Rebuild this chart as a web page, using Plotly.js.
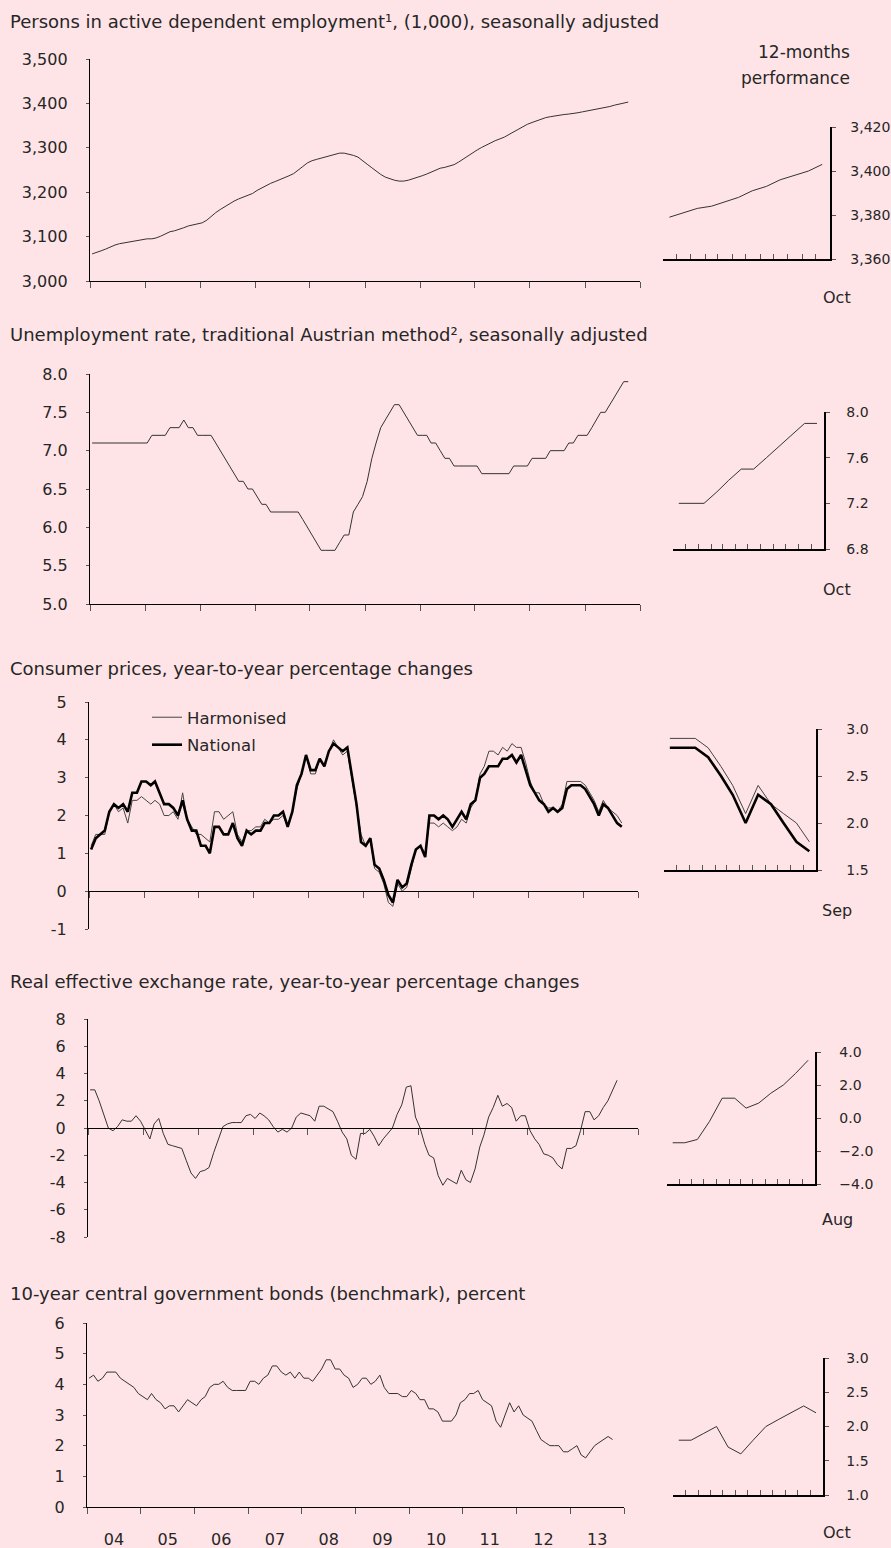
<!DOCTYPE html>
<html>
<head>
<meta charset="utf-8">
<script src="https://cdn.plot.ly/plotly-3.0.1.min.js"></script>
<style>
  html, body { margin: 0; padding: 0; background: #ffe4e7; }
  #chart { width: 891px; height: 1548px; }
</style>
</head>
<body>
<div id="chart"></div>
<script>
// ---------------- DATA (monthly, starting Jan 2004) ----------------
const employment = [
  3061, 3064, 3068, 3072, 3077, 3081, 3084, 3086, 3088, 3090, 3092, 3094,
  3095, 3095, 3097, 3101, 3106, 3111, 3113, 3116, 3120, 3124, 3126, 3128,
  3131, 3137, 3146, 3154, 3161, 3168, 3174, 3180, 3185, 3189, 3193, 3197,
  3204, 3210, 3215, 3220, 3224, 3228, 3233, 3237, 3242, 3249, 3258, 3266,
  3271, 3274, 3277, 3279, 3283, 3286, 3288, 3288, 3286, 3283, 3279, 3272,
  3263, 3255, 3247, 3240, 3234, 3230, 3227, 3225, 3225, 3227, 3230, 3233,
  3237, 3241, 3245, 3250, 3254, 3256, 3259, 3262, 3268, 3275, 3281, 3288,
  3295, 3301, 3306, 3311, 3316, 3320, 3324, 3330, 3336, 3342, 3347, 3353,
  3357, 3361, 3365, 3368, 3370, 3372, 3374, 3375, 3376, 3377, 3379, 3381,
  3383, 3384, 3386, 3388, 3391, 3393, 3396, 3398, 3400, 3403
];

const unemploymentRate = [
  7.1, 7.1, 7.1, 7.1, 7.1, 7.1, 7.1, 7.1, 7.1, 7.1, 7.1, 7.1,
  7.1, 7.2, 7.2, 7.2, 7.2, 7.3, 7.3, 7.3, 7.4, 7.3, 7.3, 7.2,
  7.2, 7.2, 7.2, 7.1, 7.0, 6.9, 6.8, 6.7, 6.6, 6.6, 6.5, 6.5,
  6.4, 6.3, 6.3, 6.2, 6.2, 6.2, 6.2, 6.2, 6.2, 6.2, 6.1, 6.0,
  5.9, 5.8, 5.7, 5.7, 5.7, 5.7, 5.8, 5.9, 5.9, 6.2, 6.3, 6.4,
  6.6, 6.9, 7.1, 7.3, 7.4, 7.5, 7.6, 7.6, 7.5, 7.4, 7.3, 7.2,
  7.2, 7.2, 7.1, 7.1, 7.0, 6.9, 6.9, 6.8, 6.8, 6.8, 6.8, 6.8,
  6.8, 6.7, 6.7, 6.7, 6.7, 6.7, 6.7, 6.7, 6.8, 6.8, 6.8, 6.8,
  6.9, 6.9, 6.9, 6.9, 7.0, 7.0, 7.0, 7.0, 7.1, 7.1, 7.2, 7.2,
  7.2, 7.3, 7.4, 7.5, 7.5, 7.6, 7.7, 7.8, 7.9, 7.9
];

const cpiHarmonised = [
  1.2, 1.5, 1.5, 1.5, 2.1, 2.3, 2.1, 2.2, 1.8, 2.4, 2.4, 2.5,
  2.4, 2.3, 2.4, 2.3, 2.0, 2.0, 2.1, 1.9, 2.6, 1.9, 1.7, 1.5,
  1.5, 1.4, 1.3, 2.1, 2.1, 1.9, 2.0, 2.1, 1.5, 1.3, 1.6, 1.6,
  1.7, 1.7, 1.9, 1.8, 1.9, 1.9, 2.0, 1.7, 2.1, 2.7, 3.1, 3.6,
  3.1, 3.1, 3.5, 3.3, 3.7, 4.0, 3.8, 3.6, 3.7, 3.0, 2.3, 1.5,
  1.2, 1.4, 0.6, 0.5, 0.2, -0.3, -0.4, 0.2, 0.0, 0.1, 0.6, 1.1,
  1.2, 1.0, 1.8, 1.8, 1.7, 1.8, 1.7, 1.6, 1.7, 1.9, 1.8, 2.2,
  2.4, 3.1, 3.3, 3.7, 3.7, 3.6, 3.8, 3.7, 3.9, 3.8, 3.8, 3.4,
  2.9, 2.6, 2.6, 2.3, 2.2, 2.2, 2.1, 2.3, 2.9, 2.9, 2.9, 2.9,
  2.8, 2.6, 2.4, 2.1, 2.4, 2.2, 2.1, 2.0, 1.8
];

const cpiNational = [
  1.1, 1.4, 1.5, 1.6, 2.1, 2.3, 2.2, 2.3, 2.1, 2.6, 2.6, 2.9,
  2.9, 2.8, 2.9, 2.6, 2.3, 2.3, 2.2, 2.0, 2.4, 1.9, 1.6, 1.6,
  1.2, 1.2, 1.0, 1.7, 1.7, 1.5, 1.5, 1.8, 1.4, 1.2, 1.6, 1.5,
  1.6, 1.6, 1.8, 1.8, 2.0, 2.0, 2.1, 1.7, 2.1, 2.8, 3.1, 3.6,
  3.2, 3.2, 3.5, 3.3, 3.7, 3.9, 3.8, 3.7, 3.8, 3.0, 2.3, 1.3,
  1.2, 1.4, 0.7, 0.6, 0.3, -0.1, -0.3, 0.3, 0.1, 0.2, 0.7, 1.1,
  1.2, 0.9, 2.0, 2.0, 1.9, 2.0, 1.9, 1.7, 1.9, 2.1, 1.9, 2.3,
  2.4, 3.0, 3.1, 3.3, 3.3, 3.3, 3.5, 3.5, 3.6, 3.4, 3.6, 3.2,
  2.8, 2.6, 2.4, 2.3, 2.1, 2.2, 2.1, 2.2, 2.7, 2.8, 2.8, 2.8,
  2.7, 2.5, 2.3, 2.0, 2.3, 2.2, 2.0, 1.8, 1.7
];

const realEffectiveExchangeRate = [
  2.8, 2.8, 2.0, 0.9, 0.0, -0.2, 0.1, 0.6, 0.5, 0.5, 0.9, 0.5,
  -0.1, -0.8, 0.3, 0.7, -0.4, -1.2, -1.3, -1.4, -1.5, -2.4, -3.3, -3.7,
  -3.2, -3.1, -2.9, -1.8, -0.8, 0.1, 0.3, 0.4, 0.4, 0.4, 0.9, 1.0,
  0.7, 1.1, 0.9, 0.6, 0.1, -0.3, -0.1, -0.3, 0.0, 0.8, 1.1, 1.0,
  0.9, 0.5, 1.6, 1.6, 1.4, 1.2, 0.5, -0.3, -0.8, -2.0, -2.3, -0.4,
  -0.4, -0.1, -0.6, -1.3, -0.8, -0.4, 0.0, 1.0, 1.7, 3.0, 3.1, 0.8,
  0.0, -1.2, -2.0, -2.2, -3.5, -4.2, -3.7, -3.9, -4.1, -3.1, -3.8, -4.0,
  -3.0, -1.4, -0.5, 0.8, 1.5, 2.4, 1.6, 1.8, 1.5, 0.5, 0.9, 0.9,
  -0.2, -0.8, -1.2, -1.9, -2.0, -2.2, -2.7, -3.0, -1.5, -1.5, -1.3, -0.2,
  1.2, 1.2, 0.6, 0.9, 1.5, 2.0, 2.7, 3.5
];

const bondYield = [
  4.2, 4.3, 4.1, 4.2, 4.4, 4.4, 4.4, 4.2, 4.1, 4.0, 3.9, 3.7,
  3.6, 3.5, 3.7, 3.5, 3.4, 3.2, 3.3, 3.3, 3.1, 3.3, 3.5, 3.4,
  3.3, 3.5, 3.6, 3.9, 4.0, 4.0, 4.1, 3.9, 3.8, 3.8, 3.8, 3.8,
  4.1, 4.1, 4.0, 4.2, 4.3, 4.6, 4.6, 4.4, 4.3, 4.4, 4.2, 4.4,
  4.2, 4.2, 4.1, 4.3, 4.5, 4.8, 4.8, 4.5, 4.5, 4.3, 4.2, 3.9,
  4.0, 4.2, 4.2, 4.0, 4.1, 4.3, 3.9, 3.7, 3.7, 3.7, 3.6, 3.6,
  3.8, 3.7, 3.5, 3.5, 3.2, 3.2, 3.1, 2.8, 2.8, 2.8, 3.0, 3.4,
  3.5, 3.7, 3.7, 3.8, 3.5, 3.4, 3.3, 2.8, 2.6, 3.0, 3.4, 3.1,
  3.3, 3.0, 2.9, 2.8, 2.5, 2.2, 2.1, 2.0, 2.0, 2.0, 1.8, 1.8,
  1.9, 2.0, 1.7, 1.6, 1.8, 2.0, 2.1, 2.2, 2.3, 2.2
];

const panelTitles = [
  "Persons in active dependent employment¹, (1,000), seasonally adjusted",
  "Unemployment rate, traditional Austrian method², seasonally adjusted",
  "Consumer prices, year-to-year percentage changes",
  "Real effective exchange rate, year-to-year percentage changes",
  "10-year central government bonds (benchmark), percent"
];
const mainYTicks = [
  [3000, 3100, 3200, 3300, 3400, 3500],
  [5.0, 5.5, 6.0, 6.5, 7.0, 7.5, 8.0],
  [-1, 0, 1, 2, 3, 4, 5],
  [-8, -6, -4, -2, 0, 2, 4, 6, 8],
  [0, 1, 2, 3, 4, 5, 6]
];
const smallYTicks = [
  [3360, 3380, 3400, 3420],
  [6.8, 7.2, 7.6, 8.0],
  [1.5, 2.0, 2.5, 3.0],
  [-4, -2, 0, 2, 4],
  [1.0, 1.5, 2.0, 2.5, 3.0]
];
const smallEndMonth = ["Oct", "Oct", "Sep", "Aug", "Oct"];
const performanceLabel = ["12-months", "performance"];
const seriesNames = ["Harmonised", "National"];

// ---------------- LAYOUT / STYLE ----------------
const W = 891, H = 1548;
const BG = "#ffe4e7";
const TXT = "#262626";
const FONT = "DejaVu Sans, sans-serif";
const px = x => x / W;
const py = y => 1 - y / H;

const fmtThousands = v => v.toLocaleString("en-US");
const fmt1 = v => v.toFixed(1);
const fmtInt = v => String(v);
const fmt1Minus = v => v.toFixed(1).replace("-", "\u2212");

const panels = [
  { series: [{ name: "Employment", values: employment, color: "#333", width: 1 }],
    mainFmt: fmtThousands, smallFmt: fmtThousands,
    box: { x0: 90, x1: 640, y0: 59, y1: 281 }, small: { x0: 663, x1: 830, y0: 127, y1: 259 },
    titleY: 22, monthY: 298, smallStandoff: 12 },
  { series: [{ name: "Unemployment", values: unemploymentRate, color: "#333", width: 1 }],
    mainFmt: fmt1, smallFmt: fmt1,
    box: { x0: 90, x1: 640, y0: 374, y1: 604 }, small: { x0: 673, x1: 824, y0: 412, y1: 549 },
    titleY: 335, monthY: 590, smallStandoff: 14 },
  { series: [{ name: seriesNames[0], values: cpiHarmonised, color: "#444", width: 1, legend: true },
             { name: seriesNames[1], values: cpiNational, color: "#000", width: 2.6, legend: true }],
    mainFmt: fmtInt, smallFmt: fmt1,
    box: { x0: 89, x1: 638, y0: 702, y1: 929 }, small: { x0: 664, x1: 816, y0: 729, y1: 870 },
    titleY: 668, monthY: 910, smallStandoff: 22 },
  { series: [{ name: "REER", values: realEffectiveExchangeRate, color: "#333", width: 1 }],
    mainFmt: fmtInt, smallFmt: fmt1Minus,
    box: { x0: 88, x1: 638, y0: 1019, y1: 1237 }, small: { x0: 667, x1: 815, y0: 1052, y1: 1184 },
    titleY: 981, monthY: 1219, smallStandoff: 16 },
  { series: [{ name: "Bonds", values: bondYield, color: "#333", width: 1 }],
    mainFmt: fmtInt, smallFmt: fmt1,
    box: { x0: 87, x1: 624, y0: 1323, y1: 1507 }, small: { x0: 673, x1: 823, y0: 1358, y1: 1495 },
    titleY: 1293, monthY: 1532, smallStandoff: 15 }
];

function monthDates(startYear, startMonth, n) {
  const out = [];
  for (let k = 0; k < n; k++) {
    const t = startMonth - 1 + k;
    const y = startYear + Math.floor(t / 12);
    const m = (t % 12) + 1;
    out.push(y + "-" + String(m).padStart(2, "0") + "-15");
  }
  return out;
}
function monthStart(d, add) {
  const y = +d.slice(0, 4), m = +d.slice(5, 7) - 1 + add;
  const yy = y + Math.floor(m / 12), mm = (m % 12 + 12) % 12 + 1;
  return yy + "-" + String(mm).padStart(2, "0") + "-01";
}
const axName = (l, n) => (n === 1 ? l + "axis" : l + "axis" + n);
const axId = (l, n) => (n === 1 ? l : l + n);

const data = [];
const layout = {
  width: W, height: H,
  margin: { l: 0, r: 0, t: 0, b: 0 },
  paper_bgcolor: BG, plot_bgcolor: "rgba(0,0,0,0)",
  font: { family: FONT, color: TXT, size: 16 },
  showlegend: true,
  legend: {
    x: px(147), y: py(700), xanchor: "left", yanchor: "top",
    bgcolor: "rgba(0,0,0,0)", borderwidth: 0,
    font: { size: 16.5, color: TXT, family: FONT },
    traceorder: "grouped", tracegroupgap: 3, itemwidth: 30
  },
  annotations: []
};

const mainRange = ["2004-01-01", "2014-01-01"];

panels.forEach((p, i) => {
  const n = i + 1, ns = i + 6, no = i + 11;
  const ticks = mainYTicks[i];
  const r0 = ticks[0], r1 = ticks[ticks.length - 1];
  const yDom = [py(p.box.y1), py(p.box.y0)];
  const hasNeg = r0 < 0;
  const xPos = hasNeg ? yDom[0] + (0 - r0) / (r1 - r0) * (yDom[1] - yDom[0]) : 0;

  // main x axis (ticks outside) + overlay (ticks inside) => crossing ticks
  layout[axName("x", n)] = {
    type: "date", domain: [px(p.box.x0), px(p.box.x1)], range: mainRange,
    anchor: hasNeg ? "free" : axId("y", n), position: xPos,
    showgrid: false, zeroline: false, showline: true, linecolor: "#000", linewidth: 1.2,
    ticks: "outside", ticklen: 6, tickcolor: "#555", tickwidth: 1,
    tick0: "2004-01-01", dtick: "M12",
    showticklabels: i === 4, ticklabelmode: "period", tickformat: "%y",
    tickfont: { size: 16, color: TXT }, ticklabelstandoff: 12
  };
  layout[axName("x", no)] = {
    type: "date", overlaying: axId("x", n), range: mainRange,
    anchor: hasNeg ? "free" : axId("y", n), position: xPos,
    showgrid: false, zeroline: false, showline: false,
    ticks: "inside", ticklen: 6, tickcolor: "#555", tickwidth: 1,
    tick0: "2004-01-01", dtick: "M12", showticklabels: false
  };
  layout[axName("y", n)] = {
    domain: yDom, range: [r0, r1], anchor: axId("x", n),
    showgrid: false, zeroline: false, showline: true, linecolor: "#000", linewidth: 1.2,
    ticks: "outside", ticklen: 3, tickcolor: "#555", tickwidth: 1,
    tickmode: "array", tickvals: ticks, ticktext: ticks.map(p.mainFmt),
    tickfont: { size: 16, color: TXT }, ticklabelstandoff: 15
  };
  layout[axName("y", no)] = {
    overlaying: axId("y", n), range: [r0, r1], anchor: axId("x", n),
    showgrid: false, zeroline: false, showline: false,
    ticks: "inside", ticklen: 5, tickcolor: "#555", tickwidth: 1,
    tickmode: "array", tickvals: ticks, showticklabels: false
  };

  // small 12-month chart
  const sTicks = smallYTicks[i];
  const longest = p.series[0].values.length;
  const dates = monthDates(2004, 1, longest);
  const sDates = dates.slice(-12);
  const sRange = [monthStart(sDates[0], 0), monthStart(sDates[11], 1)];
  layout[axName("x", ns)] = {
    type: "date", domain: [px(p.small.x0), px(p.small.x1)], range: sRange,
    anchor: axId("y", ns), showgrid: false, zeroline: false,
    showline: true, linecolor: "#000", linewidth: 1.5,
    ticks: "inside", ticklen: 5, tickcolor: "#555", tickwidth: 1,
    tick0: sRange[0], dtick: "M1", showticklabels: false
  };
  layout[axName("y", ns)] = {
    domain: [py(p.small.y1), py(p.small.y0)],
    range: [sTicks[0], sTicks[sTicks.length - 1]],
    anchor: axId("x", ns), side: "right",
    showgrid: false, zeroline: false, showline: true, linecolor: "#000", linewidth: 1.5,
    ticks: "outside", ticklen: 4, tickcolor: "#555", tickwidth: 1,
    tickmode: "array", tickvals: sTicks, ticktext: sTicks.map(p.smallFmt),
    tickfont: { size: 14, color: TXT }, ticklabelstandoff: p.smallStandoff
  };

  p.series.forEach((s, j) => {
    const d = monthDates(2004, 1, s.values.length);
    data.push({
      type: "scatter", mode: "lines", name: s.name,
      x: d, y: s.values, xaxis: axId("x", n), yaxis: axId("y", n),
      line: { color: s.color, width: s.width },
      showlegend: !!s.legend, legendgroup: "g" + i + "_" + j, hoverinfo: "skip"
    });
    data.push({
      type: "scatter", mode: "lines", name: s.name,
      x: d.slice(-12), y: s.values.slice(-12), xaxis: axId("x", ns), yaxis: axId("y", ns),
      line: { color: s.color, width: s.width },
      showlegend: false, hoverinfo: "skip"
    });
  });

  layout.annotations.push({
    text: panelTitles[i], xref: "paper", yref: "paper",
    x: px(8), y: py(p.titleY), xanchor: "left", yanchor: "middle",
    showarrow: false, font: { size: 18, color: TXT, family: FONT }
  });
  layout.annotations.push({
    text: smallEndMonth[i], xref: "paper", yref: "paper",
    x: px(837), y: py(p.monthY), xanchor: "center", yanchor: "middle",
    showarrow: false, font: { size: 16, color: TXT, family: FONT }
  });
});

layout.annotations.push({
  text: performanceLabel[0], xref: "paper", yref: "paper",
  x: px(852), y: py(52), xanchor: "right", yanchor: "middle",
  showarrow: false, font: { size: 17, color: TXT, family: FONT }
});
layout.annotations.push({
  text: performanceLabel[1], xref: "paper", yref: "paper",
  x: px(852), y: py(78), xanchor: "right", yanchor: "middle",
  showarrow: false, font: { size: 17, color: TXT, family: FONT }
});

Plotly.newPlot("chart", data, layout, { displayModeBar: false, staticPlot: true });
</script>
</body>
</html>
